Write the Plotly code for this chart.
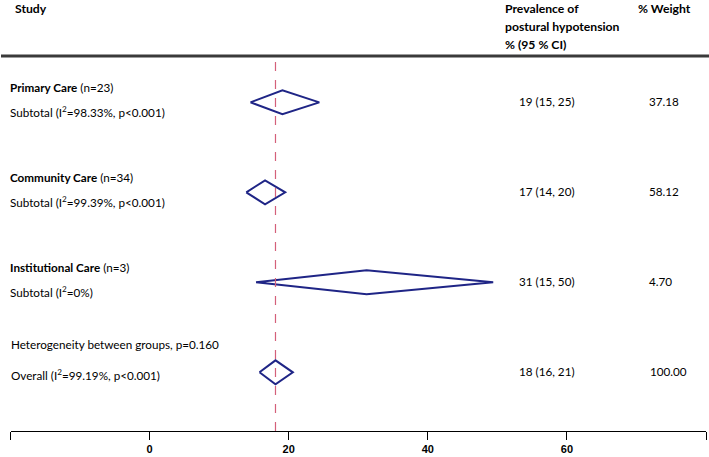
import plotly.graph_objects as go

# ---- data ----
groups = ["Primary Care", "Community Care", "Institutional Care"]
group_n = ["(n=23)", "(n=34)", "(n=3)"]
subtotal_stats = ["Subtotal (I<sup>2</sup>=98.33%, p<0.001)",
                  "Subtotal (I<sup>2</sup>=99.39%, p<0.001)",
                  "Subtotal (I<sup>2</sup>=0%)"]
est = [19.1, 16.6, 31.2]
lo = [14.5, 13.9, 15.3]
hi = [24.4, 19.5, 49.4]
est_text = ["19 (15, 25)", "17 (14, 20)", "31 (15, 50)"]
weights = ["37.18", "58.12", "4.70"]

overall_est = 18.1
overall_lo = 15.8
overall_hi = 20.6
overall_text = "18 (16, 21)"
overall_weight = "100.00"
overall_label = "Overall (I<sup>2</sup>=99.19%, p<0.001)"
heterogeneity_label = "Heterogeneity between groups, p=0.160"

tick_vals = [0, 20, 40, 60]
tick_text = ["0", "20", "40", "60"]
edge_ticks = [-20, 80]

# ---- figure ----
W, H = 709, 457
FONT = "Lato"
FS = 11.7
BLUE = "#1f2586"
half_h = 0.133

fig = go.Figure()

rows = [1, 2, 3]
all_est = est + [overall_est]
all_lo = lo + [overall_lo]
all_hi = hi + [overall_hi]
all_rows = rows + [4]
for r, e, l, h in zip(all_rows, all_est, all_lo, all_hi):
    fig.add_trace(go.Scatter(
        x=[l, e, h, e, l], y=[r, r - half_h, r, r + half_h, r],
        mode="lines", line=dict(color=BLUE, width=2),
        hoverinfo="skip", showlegend=False))

# dashed overall line
fig.add_shape(type="line", xref="x", yref="paper",
              x0=overall_est, x1=overall_est, y0=0, y1=0.856,
              line=dict(color="#d4607a", width=1.2, dash="dash"))

def px(xp):
    return xp / W

def txt(x, y, text, xref="paper", yref="y", size=FS):
    return dict(x=x, y=y, xref=xref, yref=yref, text=text,
                xanchor="left", yanchor="middle", showarrow=False,
                font=dict(family=FONT, size=size, color="black"))

ann = []
for r, g, n, s, t, w in zip(rows, groups, group_n, subtotal_stats, est_text, weights):
    ann.append(txt(px(8), r - 0.175, f"<b>{g}</b> {n}"))
    ann.append(txt(px(8), r + 0.1, s))
    ann.append(txt(px(517), r - 0.01, t))
    ann.append(txt(px(647), r - 0.02, w))

ann.append(txt(px(9), 4 - 0.32, heterogeneity_label))
ann.append(txt(px(9), 4 + 0.02, overall_label))
ann.append(txt(px(517), 4 - 0.01, overall_text))
ann.append(txt(px(648), 4 - 0.01, overall_weight))

PLOT_H = 431
def py(ypix):
    return (PLOT_H - ypix) / PLOT_H

HS = 12.2
ann.append(txt(px(13), py(8.5), "<b>Study</b>", yref="paper", size=HS))
for yy, line in zip([8.5, 26, 44], ["Prevalence of", "postural hypotension", "% (95 % CI)"]):
    ann.append(txt(px(503), py(yy), f"<b>{line}</b>", yref="paper", size=HS))
ann.append(txt(px(636), py(8.5), "<b>% Weight</b>", yref="paper", size=HS))

fig.add_shape(type="line", xref="paper", yref="paper",
              x0=px(1), x1=1, y0=py(56), y1=py(56),
              line=dict(color="#3a3a3a", width=3))

fig.update_layout(
    width=W, height=H,
    margin=dict(l=0, r=0, t=0, b=H - PLOT_H),
    paper_bgcolor="white", plot_bgcolor="white",
    annotations=ann,
    xaxis=dict(domain=[10.5 / W, 706 / W], range=[-20, 80],
               tickvals=tick_vals,
               ticktext=[f"<b>{t}</b>" for t in tick_text],
               ticks="outside", ticklen=8, tickwidth=1, tickcolor="black",
               minor=dict(tickvals=edge_ticks, ticks="outside", ticklen=8,
                          tickwidth=1, tickcolor="black", showgrid=False),
               showline=True, linecolor="black", linewidth=1,
               showgrid=False, zeroline=False,
               tickfont=dict(family="Liberation Sans", size=11, color="black"),
               fixedrange=True),
    yaxis=dict(range=[4.652, -0.137], visible=False, showgrid=False,
               zeroline=False, fixedrange=True),
)

fig.write_html("out.html", config={"displayModeBar": False},
               post_script="document.body.style.margin='0';document.body.style.overflow='hidden';")
